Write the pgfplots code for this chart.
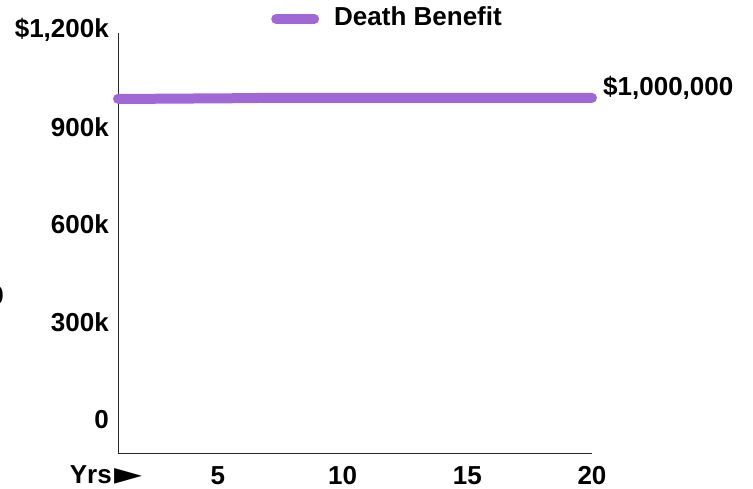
\documentclass[border=0pt]{standalone}
\usepackage{fontspec}
\setmainfont{Liberation Sans}
\newfontfamily\symbolfont{DejaVu Sans}
\usepackage{pgfplots}
\pgfplotsset{compat=1.18}
\definecolor{benefit}{RGB}{160,104,212}
\definecolor{axisgray}{RGB}{40,40,40}
\newcommand{\lbl}{\fontsize{26}{30}\selectfont\bfseries}

\begin{document}
\begin{tikzpicture}[x=1pt,y=1pt]
\useasboundingbox (0,0) rectangle (753,489);
% stray digit at the left edge
\node[anchor=east, inner sep=0pt] at (4,193) {\lbl 0};
\begin{axis}[
  at={(118pt,36pt)}, anchor=south west,
  scale only axis, width=474pt, height=420pt,
  xmin=1, xmax=20, ymin=-95000, ymax=1200000,
  axis x line*=bottom, axis y line*=left,
  axis line style={-, axisgray, line width=0.8pt},
  xtick={5,10,15,20},
  xticklabels={5,10,15,20},
  ytick={0,300000,600000,900000,1200000},
  yticklabels={0,300k,600k,900k,{\$1,200k}},
  scaled y ticks=false,
  major tick length=0pt,
  tick label style={font=\lbl, inner sep=0pt},
  yticklabel style={anchor=east, xshift=-9pt, yshift=3pt},
  xticklabel style={anchor=north, yshift=-13pt},
  clip=false,
  legend style={draw=none, fill=none, inner sep=0pt,
    at={(0.3228,1.0393)}, anchor=west,
    nodes={inner sep=0pt, font=\lbl}},
  legend image code/.code={
    \draw[line width=10pt, line cap=round, benefit] (0pt,-2.5pt) -- (38pt,-2.5pt);
  },
]
\addplot[benefit, line width=10pt, line cap=round, line join=round]
  coordinates {
    (1,997000) (2,997000) (3,997500) (4,998000) (5,998500)
    (6,999000) (7,1000000) (8,1000000) (9,1000000) (10,1000000)
    (11,1000000) (12,1000000) (13,1000000) (14,1000000) (15,1000000)
    (16,1000000) (17,1000000) (18,1000000) (19,1000000) (20,1000000)
  };
\addlegendentry{\hspace{15pt}Death Benefit}
\node[anchor=west, inner sep=0pt, xshift=11pt, yshift=10pt, font=\lbl]
  at (axis cs:20,1000000) {\$1,000,000};
\node[anchor=base east, inner sep=0pt, font=\lbl, xshift=25pt, yshift=-31pt]
  at (axis description cs:0,0)
  {Yrs\hspace{3pt}\raisebox{-1pt}{\resizebox{28pt}{16pt}{\symbolfont ►}}};
\end{axis}
\end{tikzpicture}
\end{document}
